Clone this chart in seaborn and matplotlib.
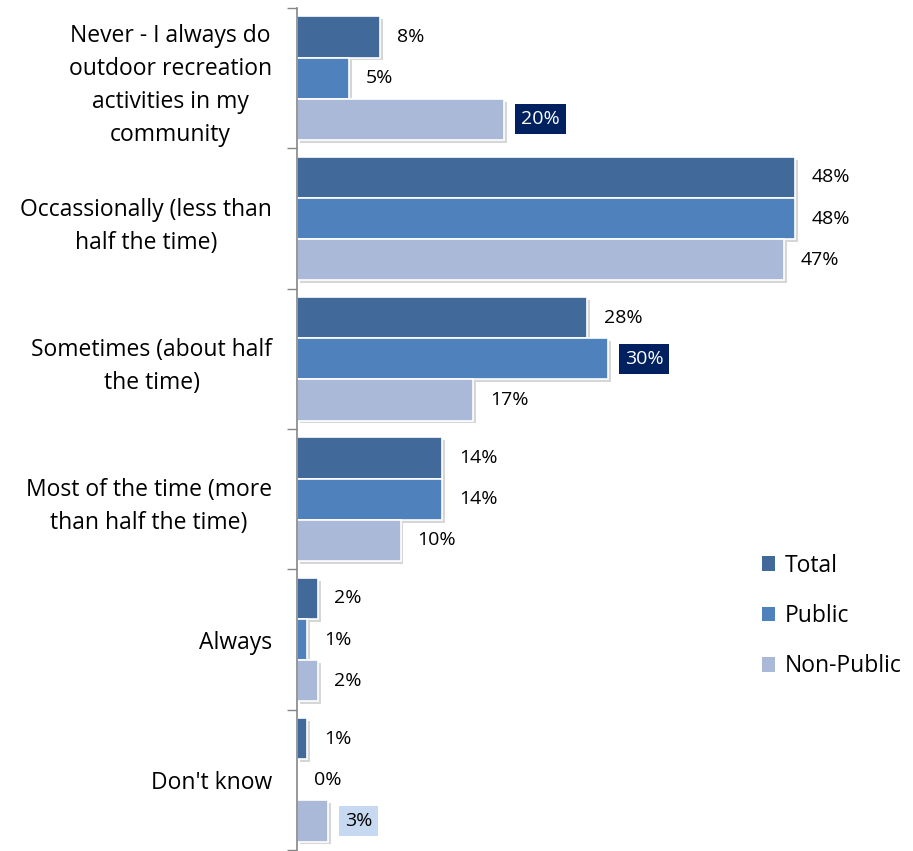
import numpy as np
import pandas as pd
import matplotlib
matplotlib.use("Agg")
import matplotlib.pyplot as plt
import matplotlib.patheffects as pe
from matplotlib.patches import Patch
import seaborn as sns

categorias = [
    "Never - I always do\noutdoor recreation\nactivities in my\ncommunity",
    "Occassionally (less than\nhalf the time)",
    "Sometimes (about half\nthe time)",
    "Most of the time (more\nthan half the time)",
    "Always",
    "Don't know",
]
series = ["Total", "Public", "Non-Public"]
total = [8, 48, 28, 14, 2, 1]
public = [5, 48, 30, 14, 1, 0]
non_public = [20, 47, 17, 10, 2, 3]
cores = ["#41699A", "#4F81BD", "#AAB9D7"]

df = pd.DataFrame({
    "categoria": categorias * 3,
    "serie": [s for s in series for _ in categorias],
    "valor": total + public + non_public,
})

sns.set_theme(style="white")
plt.rcParams["font.family"] = ["Open Sans", "DejaVu Sans"]
plt.rcParams["text.color"] = "black"
plt.rcParams["ytick.color"] = "black"

fig = plt.figure(figsize=(9.13, 8.51), dpi=100)
ax = fig.add_axes([297 / 913, 1 / 851, 0.95 - 297 / 913, 842 / 851])

sns.barplot(
    data=df, y="categoria", x="valor", hue="serie", order=categorias,
    hue_order=series, palette=cores, saturation=1, orient="h", width=0.88, gap=0,
    edgecolor="white", linewidth=1.2, legend=False, ax=ax,
)

sombra = [pe.SimplePatchShadow(offset=(2, -2), shadow_rgbFace="#9a9a9a", alpha=0.4), pe.Normal()]
for cont in ax.containers:
    for barra in cont:
        barra.set_path_effects(sombra)

# rotulos de dados; alguns com caixa destacada
destaques = {(2, 0): ("#002060", "white"), (1, 2): ("#002060", "white"), (2, 5): ("#C6D9F1", "black")}
for i, cont in enumerate(ax.containers):
    textos = ax.bar_label(cont, labels=[f"{v}%" for v in df[df.serie == series[i]]["valor"]],
                          padding=12, fontsize=14, color="black")
    for j, t in enumerate(textos):
        if (i, j) in destaques:
            fundo, cor_txt = destaques[(i, j)]
            t.set_color(cor_txt)
            t.set_bbox(dict(boxstyle="square,pad=0.3", facecolor=fundo, edgecolor="none"))

ax.set_xlim(0, 55)
ax.set_ylim(5.5, -0.5)
ax.set_xlabel("")
ax.set_ylabel("")
ax.set_xticks([])
ax.set_yticks(range(len(categorias)))
ax.set_yticklabels(categorias, fontsize=16.5, multialignment="center", linespacing=1.5)
ax.set_yticks(np.arange(-0.5, 6, 1), minor=True)
ax.tick_params(axis="y", which="major", length=0, pad=18)
ax.tick_params(axis="y", which="minor", length=7, width=1, color="#868686", left=True)
for lado in ["top", "right", "bottom"]:
    ax.spines[lado].set_visible(False)
ax.spines["left"].set_color("#868686")
ax.spines["left"].set_linewidth(1.2)

handles = [Patch(facecolor=c, edgecolor="none") for c in cores]
fig.legend(handles, series, loc="upper left", bbox_to_anchor=(741 / 913, 1 - 533 / 851),
           frameon=False, fontsize=16.5, handlelength=0.6, handleheight=0.6,
           handletextpad=0.4, labelspacing=1.15)

fig.savefig("out.png", dpi=100)
